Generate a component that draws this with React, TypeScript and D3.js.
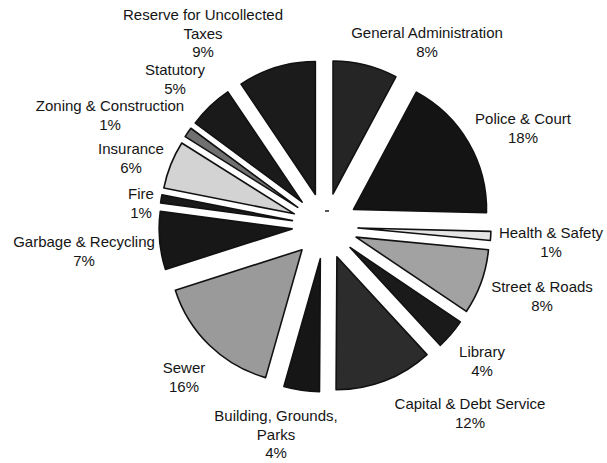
import React from "react";
import * as d3 from "d3";

// ---- data ----
const categories = [
  "General Administration",
  "Police & Court",
  "Health & Safety",
  "Street & Roads",
  "Library",
  "Capital & Debt Service",
  "Building, Grounds, Parks",
  "Sewer",
  "Garbage & Recycling",
  "Fire",
  "Insurance",
  "Zoning & Construction",
  "Statutory",
  "Reserve for Uncollected Taxes",
];
const values = [7.8, 17.5, 1.1, 7.9, 3.7, 11.9, 4.3, 15.6, 7.0, 1.0, 5.8, 1.2, 5.4, 9.4];

// ---- layout / style (not data) ----
const W = 607;
const H = 463;
const CX = 325;
const CY = 226;
const R = 133;
const EXPLODE = 33;
const LINE = 18.5;

const fills = [
  "#252525",
  "#141414",
  "#e4e4e4",
  "#a2a2a2",
  "#1a1a1a",
  "#2c2c2c",
  "#161616",
  "#9a9a9a",
  "#171717",
  "#1a1a1a",
  "#d3d3d3",
  "#707070",
  "#1a1a1a",
  "#1b1b1b",
];

// label lines (text split) and anchor (center x, first baseline y)
const labelLines: string[][] = [
  ["General Administration"],
  ["Police & Court"],
  ["Health & Safety"],
  ["Street & Roads"],
  ["Library"],
  ["Capital & Debt Service"],
  ["Building, Grounds,", "Parks"],
  ["Sewer"],
  ["Garbage & Recycling"],
  ["Fire"],
  ["Insurance"],
  ["Zoning & Construction"],
  ["Statutory"],
  ["Reserve for Uncollected", "Taxes"],
];
const labelAnchors: [number, number][] = [
  [427, 38],
  [523, 124],
  [551, 238],
  [542, 292],
  [482, 357],
  [470, 409],
  [276, 421],
  [184, 373],
  [84, 247],
  [141, 199],
  [131, 154],
  [110, 111],
  [175, 75],
  [203, 20],
];

export default function App() {
  const pie = d3
    .pie<number>()
    .sort(null)
    .value((d) => d)
    .startAngle(0)
    .endAngle(2 * Math.PI);
  const arcs = pie(values);
  const arcGen = d3.arc<d3.PieArcDatum<number>>().innerRadius(0).outerRadius(R);
  const total = d3.sum(values);

  return (
    <svg
      width={W}
      height={H}
      style={{ position: "absolute", left: 0, top: 0, background: "#ffffff" }}
    >
      <rect x={0} y={0} width={W} height={H} fill="#ffffff" />
      <g transform={`translate(${CX},${CY})`}>
        {arcs.map((a, i) => {
          const mid = (a.startAngle + a.endAngle) / 2;
          const dx = Math.sin(mid) * EXPLODE;
          const dy = -Math.cos(mid) * EXPLODE;
          return (
            <path
              key={categories[i]}
              d={arcGen(a) || ""}
              transform={`translate(${dx},${dy})`}
              fill={fills[i]}
              stroke="#111111"
              strokeWidth={1.6}
              strokeLinejoin="round"
            />
          );
        })}
        <line x1={0} y1={-15} x2={4} y2={-15} stroke="#222" strokeWidth={1.5} />
      </g>
      <g
        fontFamily="'Liberation Sans', Arial, Helvetica, sans-serif"
        fontSize={15}
        fill="#151515"
        textAnchor="middle"
      >
        {categories.map((c, i) => {
          const [x, y] = labelAnchors[i];
          const pct = Math.round((values[i] / total) * 100) + "%";
          const lines = [...labelLines[i], pct];
          return (
            <text key={c} x={x} y={y}>
              {lines.map((l, j) => (
                <tspan key={j} x={x} dy={j === 0 ? 0 : LINE}>
                  {l}
                </tspan>
              ))}
            </text>
          );
        })}
      </g>
    </svg>
  );
}
